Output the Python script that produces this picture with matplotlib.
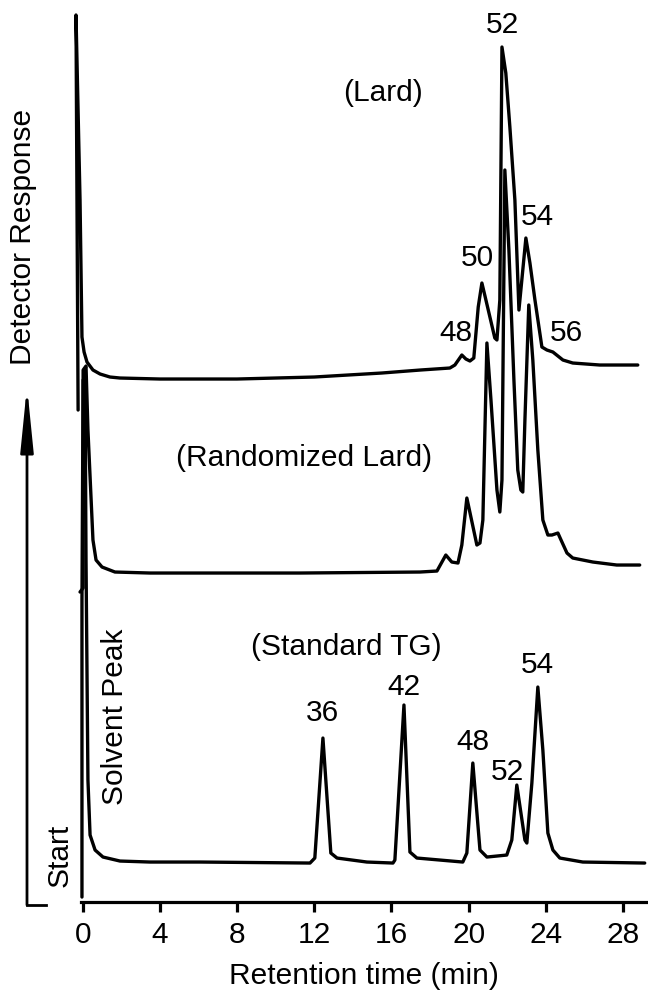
"""
HPLC chromatograms of lard, randomized lard and a standard TG mixture.
Values read off the published figure (arbitrary detector units).
"""
import matplotlib
matplotlib.use("Agg")
import matplotlib.pyplot as plt

plt.rcParams["font.family"] = ["Liberation Sans", "DejaVu Sans"]

# ---------- traces: retention time (min) / detector response (a.u.) -------
lard_t = [-0.24, -0.35, -0.14, -0.04, 0.07, 0.22, 0.53, 0.90, 1.41, 1.93,
          4.00, 8.00, 12.00, 15.50, 17.50, 19.03, 19.29, 19.65, 19.86, 20.07,
          20.27, 20.50, 20.69, 20.85, 21.36, 21.47, 21.62, 21.73, 21.93, 22.14,
          22.40, 22.61, 22.97, 23.18, 23.44, 23.80, 24.06, 24.37, 24.89, 25.40,
          26.80, 28.77]
lard_y = [49.2, 88.7, 70.2, 56.5, 55.0, 54.0, 53.2, 52.8, 52.5, 52.4,
          52.3, 52.3, 52.5, 52.9, 53.2, 53.4, 53.7, 54.7, 54.3, 54.1,
          54.4, 59.5, 61.9, 60.6, 56.4, 56.2, 60.2, 85.5, 82.9, 77.5,
          70.2, 59.2, 66.4, 63.9, 60.2, 55.5, 55.2, 55.0, 54.2, 53.9,
          53.7, 53.7]

rand_t = [-0.14, 0.02, 0.02, 0.17, 0.27, 0.53, 0.69, 1.00, 1.67, 3.49,
          11.26, 17.48, 18.36, 18.82, 19.13, 19.45, 19.65, 19.91, 20.43,
          20.59, 20.74, 20.95, 21.16, 21.47, 21.62, 21.73, 21.88, 22.09,
          22.35, 22.55, 22.71, 22.81, 22.92, 23.12, 23.33, 23.59, 23.85,
          24.11, 24.32, 24.63, 24.84, 25.10, 25.40, 26.44, 27.68, 28.87]
rand_y = [31.0, 31.4, 53.2, 53.6, 47.2, 36.2, 34.2, 33.5, 33.0, 32.9,
          32.9, 33.0, 33.1, 34.7, 34.0, 33.9, 35.7, 40.4, 35.7,
          35.9, 38.2, 55.9, 50.2, 41.2, 39.0, 42.2, 73.2, 65.2,
          52.2, 43.2, 41.2, 41.0, 48.2, 59.7, 54.2, 45.2, 38.2,
          36.7, 36.7, 36.9, 36.0, 34.9, 34.4, 34.0, 33.7, 33.7]

std_t = [-0.04, -0.04, 0.02, 0.12, 0.17, 0.27, 0.38, 0.64, 1.05, 1.93,
         3.49, 6.08, 11.78, 12.03, 12.45, 12.86, 13.18, 14.73, 16.08,
         16.18, 16.65, 16.96, 17.32, 19.70, 19.91, 20.22, 20.59, 20.95,
         21.98, 22.24, 22.50, 22.92, 23.02, 23.28, 23.59, 23.85, 24.11,
         24.37, 24.73, 25.92, 29.13]
std_y = [0.5, 30.2, 52.2, 52.4, 34.2, 12.2, 6.7, 5.2, 4.5, 4.1,
         4.0, 4.0, 3.9, 4.4, 16.4, 4.9, 4.4, 4.0, 3.9,
         4.2, 19.7, 5.0, 4.4, 4.0, 4.9, 13.9, 5.2, 4.5,
         4.7, 6.2, 11.7, 6.2, 5.9, 11.9, 21.5, 15.2, 6.9,
         5.2, 4.4, 4.0, 3.9]

# ---------- peak labels (carbon number) -----------------------------------
lard_labels = ["52", "50", "54", "48", "56"]
lard_lab_t = [21.73, 20.48, 23.54, 19.34, 25.09]
lard_lab_y = [87.7, 64.4, 68.5, 56.9, 56.9]

std_labels = ["36", "42", "48", "52", "54"]
std_lab_t = [12.45, 16.65, 20.22, 22.03, 23.59]
std_lab_y = [18.9, 21.5, 16.0, 13.0, 23.7]

titles = ["(Lard)", "(Randomized Lard)", "(Standard TG)"]
title_t = [15.56, 11.47, 13.64]
title_y = [80.9, 44.4, 25.5]

ticks = list(range(0, 29, 4))

# ---------- figure ----------------------------------------------------------
fig = plt.figure(figsize=(6.48, 9.93), dpi=100)
ax = fig.add_axes([0.1247, 0.0916, 0.8753, 0.9084])
ax.set_xlim(-0.1, 29.3)
ax.set_ylim(0, 90.2)

lw = 2.4
for t, y in [(lard_t, lard_y), (rand_t, rand_y), (std_t, std_y)]:
    ax.plot(t, y, color="black", lw=lw, clip_on=False,
            solid_joinstyle="round", solid_capstyle="round")

fs = 21.5
for s, t, y in zip(lard_labels, lard_lab_t, lard_lab_y):
    ax.text(t, y, s, fontsize=fs, ha="center", va="center")
for s, t, y in zip(std_labels, std_lab_t, std_lab_y):
    ax.text(t, y, s, fontsize=fs, ha="center", va="center")
for s, t, y in zip(titles, title_t, title_y):
    ax.text(t, y, s, fontsize=fs, ha="center", va="center")

ax.text(1.67, 18.5, "Solvent Peak", fontsize=fs, rotation=90,
        ha="center", va="center")

for side in ["left", "top", "right"]:
    ax.spines[side].set_visible(False)
ax.spines["bottom"].set_linewidth(2.3)
ax.set_yticks([])
ax.set_xticks(ticks)
ax.tick_params(axis="x", direction="out", length=7, width=2.3,
               labelsize=fs, pad=7)
ax.set_xlabel("Retention time (min)", fontsize=fs, labelpad=9)

# y-axis label and the "Start" arrow drawn on the figure
fig.text(23 / 648, 1 - 237 / 993, "Detector Response", fontsize=fs,
         rotation=90, ha="center", va="center")
fig.text(60 / 648, 1 - 855 / 993, "Start", fontsize=fs,
         rotation=90, ha="center", va="center")
ax.annotate("", xy=(27 / 648, 1 - 386 / 993), xytext=(27 / 648, 1 - 905 / 993),
            xycoords="figure fraction", textcoords="figure fraction",
            arrowprops=dict(arrowstyle="-|>,head_length=2.6,head_width=0.26",
                            mutation_scale=15, color="black", lw=2.0,
                            shrinkA=0, shrinkB=0))
fig.add_artist(plt.Line2D([27 / 648, 46 / 648], [1 - 905 / 993, 1 - 905 / 993],
                          color="black", lw=2.0))

fig.savefig("out.png", dpi=100)
